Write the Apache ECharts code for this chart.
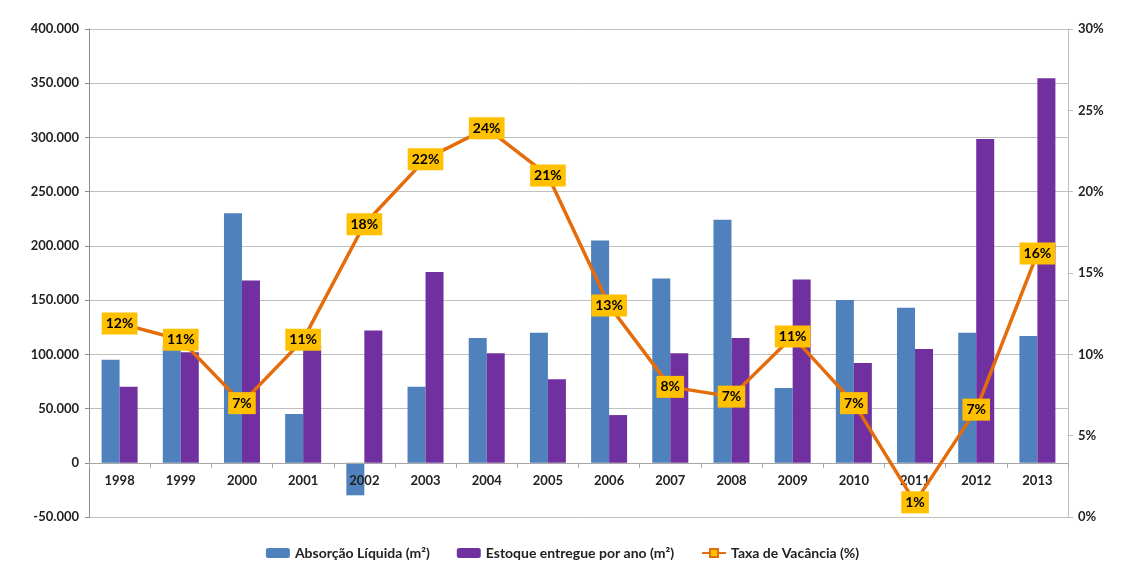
<!DOCTYPE html>
<html><head><meta charset="utf-8">
<script src="https://cdn.jsdelivr.net/npm/echarts@6/dist/echarts.min.js"></script>
<style>html,body{margin:0;padding:0;background:#fff}#c{width:1125px;height:564px}</style>
</head><body><div id="c"></div>
<script>
var years = ['1998','1999','2000','2001','2002','2003','2004','2005','2006','2007','2008','2009','2010','2011','2012','2013'];
var absorcao = [95000,108000,230000,45000,-30000,70000,115000,120000,205000,170000,224000,69000,150000,143000,120000,117000];
var estoque = [70000,102000,168000,108500,122000,176000,101000,77000,44000,101000,115000,169000,92000,105000,298500,354500];
var vacancia = [11.9,10.9,7.0,10.9,18.0,22.0,23.9,21.0,13.0,8.0,7.4,11.1,7.0,0.9,6.6,16.2];
var seriesNames = ['Absorção Líquida (m²)','Estoque entregue por ano (m²)','Taxa de Vacância (%)'];

var FONT = 'Lato';
var Y_MIN = -50000, Y_MAX = 400000;
var GRID_TOP = 29, GRID_BOTTOM = 47, H = 564;
var plotH = H - GRID_TOP - GRID_BOTTOM;
var zeroOffset = -plotH * (0 - Y_MIN) / (Y_MAX - Y_MIN);
function fmt(v){
  var s = Math.abs(v).toString().replace(/\B(?=(\d{3})+(?!\d))/g,'.');
  return (v<0?'-':'')+s;
}
var chart = echarts.init(document.getElementById('c'));
chart.setOption({
  animation:false,
  textStyle:{fontFamily:FONT},
  grid:{left:89,right:57,top:GRID_TOP,bottom:GRID_BOTTOM},
  legend:{
    top:541, left:'center', itemGap:27, itemWidth:24, itemHeight:10,
    textStyle:{fontFamily:FONT,fontWeight:'bold',fontSize:14,color:'#222'},
    data:seriesNames
  },
  xAxis:{
    type:'category', data:years, position:'bottom', offset:zeroOffset, z:3,
    axisLine:{onZero:false,lineStyle:{color:'#a6a6a6'}},
    axisTick:{show:true,length:5,lineStyle:{color:'#a6a6a6'}},
    axisLabel:{fontFamily:FONT,fontWeight:'bold',fontSize:13,color:'#222',margin:12}
  },
  yAxis:[{
    type:'value', min:Y_MIN, max:Y_MAX, interval:50000,
    axisLine:{show:true,lineStyle:{color:'#8c8c8c'}},
    axisTick:{show:true,length:4,lineStyle:{color:'#8c8c8c'}},
    splitLine:{lineStyle:{color:'#bfbfbf'}},
    axisLabel:{fontFamily:FONT,fontWeight:'bold',fontSize:13,color:'#222',margin:10,formatter:fmt}
  },{
    type:'value', min:0, max:30, interval:5,
    axisLine:{show:true,lineStyle:{color:'#bfbfbf'}},
    axisTick:{show:true,length:5,lineStyle:{color:'#bfbfbf'}},
    splitLine:{show:false},
    axisLabel:{fontFamily:FONT,fontWeight:'bold',fontSize:13,color:'#222',margin:10,formatter:'{value}%'}
  }],
  series:[{
    name:seriesNames[0], type:'bar', data:absorcao, barWidth:18, barGap:'0%',
    itemStyle:{color:'#4F81BD'}
  },{
    name:seriesNames[1], type:'bar', data:estoque, barWidth:18, barGap:'0%',
    itemStyle:{color:'#7030A0'}
  },{
    name:seriesNames[2], type:'line', yAxisIndex:1, data:vacancia, z:5,
    symbol:'rect', symbolSize:9,
    lineStyle:{color:'#E46C0A',width:3.5},
    itemStyle:{color:'#FFC000',borderColor:'#E46C0A',borderWidth:1.5},
    label:{show:true,position:'inside',backgroundColor:'#FFC000',padding:[5,4,3,4],
      fontFamily:FONT,fontWeight:'bold',fontSize:14,color:'#000',
      formatter:function(p){return Math.round(p.value)+'%';}}
  }]
});
</script></body></html>
